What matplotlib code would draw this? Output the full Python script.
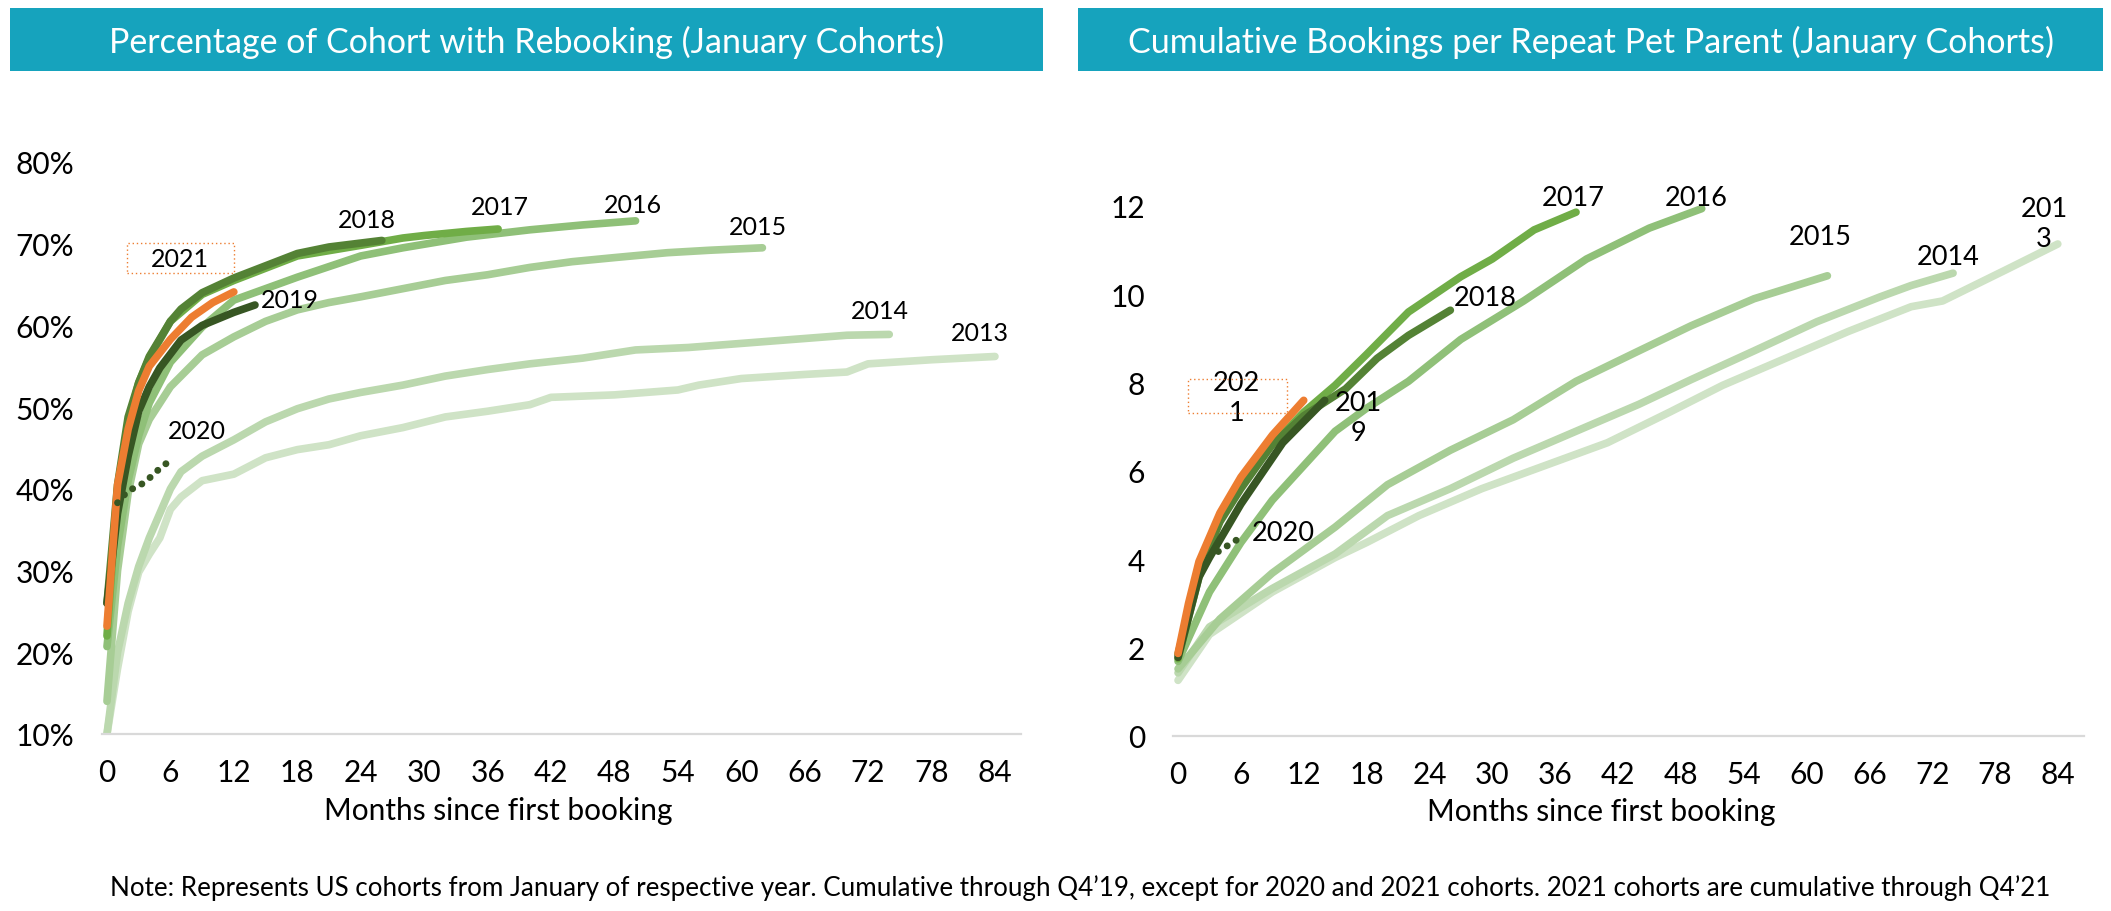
import matplotlib.pyplot as plt
from matplotlib.patches import Rectangle

plt.rcParams['font.family'] = ['Lato', 'DejaVu Sans']

# ---- left chart: % of cohort with rebooking (values in %) ----
pct_months = {
    "2013": [0, 1, 2, 3, 4, 5, 6, 7, 9, 12, 15, 18, 21, 24, 28, 32, 36, 40, 42, 48, 54, 56, 60, 66, 70, 72, 78, 84],
    "2014": [0, 1, 2, 3, 4, 6, 7, 9, 12, 15, 18, 21, 24, 28, 32, 36, 40, 45, 50, 55, 60, 65, 70, 74],
    "2015": [0, 1, 2, 3, 4, 6, 9, 12, 15, 18, 21, 24, 28, 32, 36, 40, 44, 48, 53, 57, 62],
    "2016": [0, 1, 2, 3, 4, 6, 9, 12, 18, 24, 28, 34, 40, 45, 50],
    "2017": [0, 1, 2, 3, 4, 6, 9, 12, 18, 24, 28, 30, 34, 37],
    "2018": [0, 1, 2, 3, 4, 6, 7, 9, 12, 15, 18, 21, 26],
    "2019": [0, 1, 2, 3, 4, 5, 7, 9, 12, 14],
    "2020": [1, 2, 3, 4, 5, 6],
    "2021": [0, 1, 2, 3, 4, 6, 8, 10, 12],
}
pct_values = {
    "2013": [10, 18, 25, 29.8, 32, 34, 37.5, 39, 41, 41.8, 43.8, 44.8, 45.4, 46.5, 47.5, 48.8, 49.5, 50.3, 51.2, 51.5, 52.1, 52.7, 53.5, 54, 54.3, 55.3, 55.8, 56.2],
    "2014": [10, 20, 26, 30.5, 34, 40, 42.1, 44, 46, 48.2, 49.8, 51, 51.8, 52.7, 53.8, 54.6, 55.3, 56, 57, 57.3, 57.8, 58.3, 58.8, 58.9],
    "2015": [14, 30, 39.5, 45.5, 48.5, 52.5, 56.4, 58.6, 60.5, 61.9, 62.8, 63.5, 64.5, 65.5, 66.2, 67.1, 67.8, 68.3, 68.9, 69.2, 69.5],
    "2016": [20.7, 33, 41, 46.5, 50.5, 55.5, 59.8, 63.1, 65.9, 68.5, 69.5, 70.8, 71.7, 72.3, 72.8],
    "2017": [22, 40, 48, 53, 56, 60.5, 63.8, 65.5, 68.5, 69.8, 70.7, 71, 71.5, 71.8],
    "2018": [26, 40.5, 48.8, 53, 56.2, 60.5, 62, 64, 65.8, 67.3, 68.8, 69.6, 70.4],
    "2019": [26, 37, 44, 49.5, 52.5, 54.8, 58.2, 60, 61.6, 62.5],
    "2020": [38.3, 39.8, 40.3, 41.3, 42.5, 43.5],
    "2021": [23.2, 40.5, 47.3, 52, 55, 58.3, 61, 62.8, 64.1],
}

# ---- right chart: cumulative bookings per repeat pet parent ----
bk_months = {
    "2013": [0, 3, 9, 15, 18, 23, 29, 35, 41, 47, 52, 58, 64, 70, 73, 79, 84],
    "2014": [0, 3, 9, 15, 20, 26, 32, 38, 44, 49, 55, 61, 67, 70, 74],
    "2015": [0, 4, 9, 15, 20, 26, 32, 38, 44, 49, 55, 62],
    "2016": [0, 3, 6, 9, 11, 15, 18, 22, 27, 33, 39, 45, 50],
    "2017": [0, 2, 4, 6, 9, 12, 15, 18, 22, 27, 30, 34, 38],
    "2018": [0, 2, 4, 6, 9, 12, 16, 19, 22, 26],
    "2019": [0, 2, 3, 6, 10, 14],
    "2020": [3, 4, 5, 6],
    "2021": [0, 1, 2, 3, 4, 6, 9, 12],
}
bk_values = {
    "2013": [1.26, 2.3, 3.26, 4.04, 4.38, 4.99, 5.6, 6.12, 6.64, 7.34, 7.94, 8.55, 9.16, 9.72, 9.85, 10.55, 11.14],
    "2014": [1.43, 2.47, 3.34, 4.12, 4.99, 5.6, 6.29, 6.9, 7.51, 8.07, 8.72, 9.38, 9.94, 10.2, 10.48],
    "2015": [1.52, 2.65, 3.69, 4.73, 5.69, 6.47, 7.16, 8.03, 8.72, 9.29, 9.9, 10.42],
    "2016": [1.69, 3.26, 4.38, 5.34, 5.86, 6.9, 7.42, 8.03, 8.98, 9.85, 10.8, 11.5, 11.94],
    "2017": [1.75, 3.6, 4.9, 5.7, 6.6, 7.33, 7.94, 8.64, 9.6, 10.4, 10.8, 11.46, 11.86],
    "2018": [1.85, 3.7, 4.85, 5.6, 6.6, 7.25, 7.86, 8.55, 9.07, 9.64],
    "2019": [1.78, 3.6, 4.04, 5.25, 6.64, 7.6],
    "2020": [4.05, 4.2, 4.35, 4.5],
    "2021": [1.87, 3.0, 3.95, 4.5, 5.05, 5.86, 6.81, 7.6],
}

cohorts = ["2013", "2014", "2015", "2016", "2017", "2018", "2019", "2020", "2021"]
colors = {
    "2013": "#CFE3C6", "2014": "#BBD8AE", "2015": "#A7CD95", "2016": "#8FC078",
    "2017": "#70AD47", "2018": "#548235", "2019": "#375623", "2020": "#375623",
    "2021": "#ED7D31",
}

# label text and positions (month, value)
pct_labels = {"2013": (82.6, 59.1), "2014": (73.1, 61.8), "2015": (61.6, 72.1), "2016": (49.8, 74.8),
              "2017": (37.2, 74.5), "2018": (24.6, 73.0), "2019": (17.3, 63.2), "2020": (8.5, 47.2),
              "2021": (6.9, 68.2)}
bk_labels = {"201\n3": (82.7, 11.6), "2014": (73.5, 10.86), "2015": (61.3, 11.3), "2016": (49.5, 12.2),
             "2017": (37.7, 12.2), "2018": (29.3, 9.92), "201\n9": (17.2, 7.2), "2020": (10.0, 4.6),
             "202\n1": (5.6, 7.67)}

W, H = 2111, 912
fig = plt.figure(figsize=(W / 100, H / 100), dpi=100)
teal = "#16A3BD"


def fx(px):
    return px / W


def fy(px):
    return 1 - px / H


def style_axis(ax, ylim, yticks, fmt):
    ax.set_xlim(-0.5, 86.5)
    ax.set_ylim(*ylim)
    ax.set_xticks(range(0, 85, 6))
    ax.set_yticks(yticks)
    ax.set_yticklabels([fmt(v) for v in yticks])
    for s in ["top", "right", "left"]:
        ax.spines[s].set_visible(False)
    ax.spines["bottom"].set_color("#D9D9D9")
    ax.spines["bottom"].set_linewidth(1.6)
    ax.tick_params(length=0, labelsize=21.5, colors="black")
    ax.tick_params(axis="y", pad=20)
    ax.tick_params(axis="x", pad=17)


def draw_lines(ax, months, values):
    for c in cohorts:
        if c == "2020":
            ax.plot(months[c], values[c], color=colors[c], lw=5, linestyle=(0, (0.01, 1.5)),
                    dash_capstyle="round", zorder=5)
        else:
            ax.plot(months[c], values[c], color=colors[c], lw=5.5, solid_capstyle="round",
                    solid_joinstyle="round", zorder=3 if c in ("2019", "2021") else 2)


# left panel
ax1 = fig.add_axes([fx(101.7), fy(735), fx(1021.4 - 101.7), (735 - 163) / H])
draw_lines(ax1, pct_months, pct_values)
style_axis(ax1, (10, 80), list(range(10, 81, 10)), lambda v: f"{v}%")
for t, (m, v) in pct_labels.items():
    ax1.text(m, v, t, fontsize=18, ha="center", va="center", color="black")
ax1.add_patch(Rectangle((1.9, 66.4), 10.1, 3.7, fill=False, ec="#ED7D31", lw=1.0,
                        linestyle=(0, (1, 2)), zorder=4))
ax1.set_xlabel("Months since first booking", fontsize=21.5)
ax1.xaxis.set_label_coords((498 - 101.7) / (1021.4 - 101.7), -0.108)

# right panel
ax2 = fig.add_axes([fx(1172.8), fy(737), fx(2084 - 1172.8), (737 - 207) / H])
draw_lines(ax2, bk_months, bk_values)
style_axis(ax2, (0, 12), list(range(0, 13, 2)), lambda v: f"{v}")
for t, (m, v) in bk_labels.items():
    ax2.text(m, v, t, fontsize=19.5, ha="center", va="center", color="black", linespacing=1.25)
ax2.add_patch(Rectangle((0.95, 7.31), 9.45, 0.77, fill=False, ec="#ED7D31", lw=1.0,
                        linestyle=(0, (1, 2)), zorder=4))
ax2.set_xlabel("Months since first booking", fontsize=21.5)
ax2.xaxis.set_label_coords((1601 - 1172.8) / (2084 - 1172.8), -0.115)

# title bars
for x0, x1, title in [(10, 1043, "Percentage of Cohort with Rebooking (January Cohorts)"),
                      (1078, 2103, "Cumulative Bookings per Repeat Pet Parent (January Cohorts)")]:
    fig.patches.append(Rectangle((fx(x0), fy(72)), fx(x1 - x0), 63 / H, transform=fig.transFigure,
                                 facecolor=teal, edgecolor="none"))
    fig.text(fx((x0 + x1) / 2), fy(42), title, color="white", fontsize=24.5, ha="center", va="center")

fig.text(fx(1080), fy(888), "Note: Represents US cohorts from January of respective year. Cumulative through "
         "Q4\u201919, except for 2020 and 2021 cohorts. 2021 cohorts are cumulative through Q4\u201921",
         fontsize=18.7, ha="center", va="center", color="black")

fig.savefig("out.png", dpi=100)
